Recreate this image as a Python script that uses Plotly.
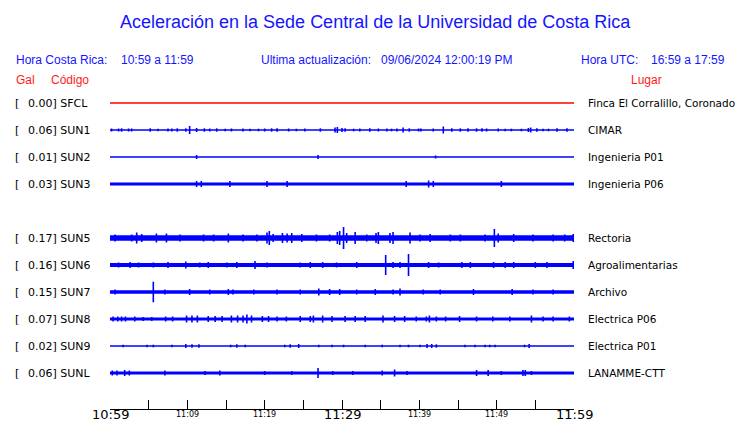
import plotly.graph_objects as go

# ---------------- data ----------------
codes = ["SFCL", "SUN1", "SUN2", "SUN3", "SUN5", "SUN6", "SUN7", "SUN8", "SUN9", "SUNL"]
gal = [0.00, 0.06, 0.01, 0.03, 0.17, 0.16, 0.15, 0.07, 0.02, 0.06]
places = ["Finca El Corralillo, Coronado", "CIMAR", "Ingenieria P01", "Ingenieria P06",
          "Rectoria", "Agroalimentarias", "Archivo", "Electrica P06", "Electrica P01", "LANAMME-CTT"]
rows = [0, 1, 2, 3, 5, 6, 7, 8, 9, 10]          # SUN4 slot is empty
noise = [0.5, 0.6, 0.5, 1.6, 2.7, 2.0, 1.7, 1.5, 0.5, 1.6]   # noise floor half-amplitude

# minutes after 10:59 and peak half-amplitude of visible bursts
sfcl_t, sfcl_a = [], []
sun1_t = [0.2, 1.1, 1.5, 2.4, 2.8, 5.2, 6.2, 7.5, 8.0, 8.7, 9.8, 10.3, 11.2, 12.2, 12.9, 13.8, 14.9,
          15.7, 17.2, 18.1, 19.2, 20.0, 20.9, 21.6, 23.1, 24.1, 25.2, 27.2, 29.1, 29.4, 30.0, 30.4,
          31.5, 32.3, 33.6, 34.7, 35.8, 36.4, 37.1, 37.9, 38.7, 39.9, 40.2, 41.8, 43.1, 44.2, 45.3,
          46.3, 47.4, 48.1, 48.7, 50.2, 51.1, 51.9, 53.2, 54.1, 54.4, 55.2, 56.0, 56.7, 57.8, 59.1]
sun1_a = [1.5, 1.5, 1.7, 1.5, 1.5, 1.7, 1.3, 1.5, 1.5, 1.7, 1.7, 4.0, 2.0, 1.7, 1.5, 1.7, 1.3,
          1.5, 1.5, 1.3, 1.3, 1.5, 1.7, 1.7, 1.5, 1.3, 1.5, 1.7, 2.5, 3.0, 2.0, 1.7,
          1.3, 1.5, 1.7, 1.5, 1.5, 1.3, 1.5, 2.5, 1.7, 1.5, 1.5, 1.5, 3.5, 1.7, 1.7,
          1.7, 1.7, 1.7, 1.5, 1.5, 1.3, 1.3, 1.3, 2.0, 2.5, 1.7, 1.3, 1.3, 1.7, 1.7]
sun2_t = [11.2, 26.9, 42.1]
sun2_a = [2.0, 2.0, 1.5]
sun3_t = [11.2, 11.8, 15.5, 20.3, 22.9, 38.3, 41.2, 41.8, 50.6]
sun3_a = [3.0, 3.0, 3.0, 3.0, 3.0, 3.0, 3.5, 3.0, 3.0]
sun5_t = [0.65, 2.8, 3.45, 4.1, 6.0, 7.3, 9.05, 12.1, 13.4, 15.3, 17.2, 19.0, 20.3, 20.6, 21.1,
          22.3, 22.9, 23.5, 24.8, 26.7, 28.4, 29.4, 29.7, 30.2, 30.6, 31.7, 33.2, 34.4, 34.7,
          36.2, 36.6, 38.8, 40.1, 41.4, 44.0, 45.3, 48.5, 49.7, 50.2, 52.2, 54.7, 57.3, 58.8, 59.9]
sun5_a = [3.5, 3.5, 5.5, 4.0, 4.5, 4.5, 3.5, 3.5, 3.5, 4.5, 3.5, 3.5, 5.5, 7.0, 4.0,
          5.0, 4.5, 5.0, 4.0, 3.5, 3.5, 6.0, 7.0, 11.0, 5.0, 6.0, 3.5, 5.0, 6.0,
          5.0, 6.0, 5.5, 3.5, 4.0, 3.5, 3.5, 3.5, 9.0, 4.5, 4.0, 3.5, 3.5, 3.5, 4.0]
sun6_t = [1.1, 2.6, 3.7, 5.6, 7.5, 9.8, 11.6, 12.7, 15.1, 16.4, 18.75, 20.3, 24.6, 25.9, 27.5,
          29.3, 31.9, 35.65, 36.6, 37.5, 38.6, 41.2, 42.5, 45.5, 46.6, 49.6, 51.1, 52.2, 55.0,
          56.5, 59.9]
sun6_a = [2.5, 3.0, 2.5, 2.5, 3.0, 3.5, 2.5, 3.0, 2.5, 3.0, 4.0, 2.5, 2.5, 3.0, 3.0,
          2.5, 3.0, 10.0, 3.0, 3.0, 11.0, 3.0, 2.5, 3.0, 3.0, 3.0, 3.0, 3.0, 3.0,
          3.0, 4.0]
sun7_t = [0.65, 5.6, 7.1, 10.3, 12.9, 15.3, 15.9, 18.6, 21.6, 24.6, 27.0, 28.4, 29.7, 31.9, 34.3,
          36.6, 37.5, 40.5, 42.7, 47.0, 52.0, 54.7, 57.3]
sun7_a = [2.5, 10.3, 2.5, 3.0, 2.5, 3.0, 2.5, 2.5, 2.5, 2.5, 3.5, 3.0, 3.0, 2.5, 3.0,
          2.5, 3.5, 2.5, 2.5, 3.0, 3.0, 2.5, 2.5]
sun8_t = [0.4, 1.0, 1.5, 2.0, 3.2, 4.3, 5.4, 7.2, 8.1, 9.9, 10.6, 11.3, 12.7, 13.6, 14.5, 15.7,
          16.5, 17.2, 17.7, 18.3, 19.7, 20.5, 21.6, 22.8, 24.6, 25.9, 26.3, 27.5, 28.7, 30.4,
          31.7, 33.0, 35.3, 36.8, 38.1, 39.6, 40.9, 41.3, 42.2, 43.4, 45.2, 47.4, 49.5, 51.7,
          54.5, 56.0, 57.3, 59.4]
sun8_a = [2.5, 2.5, 2.5, 2.5, 2.5, 2.0, 2.0, 2.5, 2.5, 3.5, 3.5, 3.5, 3.0, 3.0, 3.0, 3.5,
          3.5, 3.5, 4.5, 3.5, 3.0, 3.0, 2.5, 2.5, 3.0, 3.0, 3.5, 3.5, 3.0, 3.0,
          3.0, 3.0, 3.5, 3.0, 3.0, 2.5, 2.5, 3.5, 2.5, 2.5, 3.0, 2.5, 2.5, 2.5,
          3.5, 2.5, 2.5, 2.5]
sun9_t = [1.7, 4.8, 5.6, 8.0, 9.8, 10.6, 11.5, 15.6, 16.4, 17.5, 22.6, 23.3, 24.4, 27.0, 28.7,
          30.2, 33.0, 35.2, 37.5, 38.6, 40.1, 41.0, 41.6, 42.2, 45.9, 47.2, 48.5, 49.1, 49.8,
          53.6, 54.2]
sun9_a = [1.3, 1.3, 1.3, 1.3, 2.0, 1.7, 1.7, 1.3, 1.7, 1.3, 1.3, 1.7, 2.0, 1.3, 1.3,
          1.3, 1.3, 1.3, 1.3, 1.3, 1.3, 2.0, 2.0, 1.7, 1.3, 1.3, 1.3, 1.3, 1.3,
          1.3, 2.0]
sunl_t = [0.3, 0.9, 1.9, 2.5, 7.1, 12.3, 14.2, 20.0, 23.5, 26.9, 28.8, 31.4, 35.2, 36.8, 38.4,
          47.4, 48.9, 50.6, 53.4, 53.7, 54.5]
sunl_a = [2.5, 2.5, 3.0, 2.5, 2.5, 2.0, 2.5, 2.0, 2.0, 5.0, 2.0, 2.0, 2.5, 3.5, 2.0,
          3.0, 3.0, 2.0, 3.0, 3.0, 2.0]

event_t = [sfcl_t, sun1_t, sun2_t, sun3_t, sun5_t, sun6_t, sun7_t, sun8_t, sun9_t, sunl_t]
event_a = [sfcl_a, sun1_a, sun2_a, sun3_a, sun5_a, sun6_a, sun7_a, sun8_a, sun9_a, sunl_a]
colors = ["#ff0000"] + ["#0000ff"] * 9

tick_vals = [0, 5, 10, 15, 20, 25, 30, 35, 40, 45, 50, 55, 60]
major_vals = [0, 30, 60]
major_text = ["10:59", "11:29", "11:59"]
minor_vals = [10, 20, 40, 50]
minor_text = ["11:09", "11:19", "11:39", "11:49"]
T_END = 60

# ---------------- layout constants ----------------
W, H = 740, 423
PL, PR, PT, PB = 110, 574, 90, 409      # plot area in px
ROW_PX = 27.0
ymax = (103 - PT) / ROW_PX
ymin = -(10 + (PB - 373) / ROW_PX)
scale = 1.0 / ROW_PX    # amplitude px -> row units

def px(x):
    return (x - PL) / (PR - PL)

def py(y):
    return (PB - y) / (PB - PT)

fig = go.Figure()
for i, code in enumerate(codes):
    c = -rows[i]
    col = colors[i]
    fig.add_trace(go.Scatter(x=[0, T_END], y=[c, c], mode="lines",
                             line=dict(color=col, width=max(1.3, 2 * noise[i])),
                             hoverinfo="skip", showlegend=False))
    xs, ys = [], []
    for t, a in zip(event_t[i], event_a[i]):
        xs += [t, t, None]
        ys += [c - a * scale, c + a * scale, None]
    if xs:
        fig.add_trace(go.Scatter(x=xs, y=ys, mode="lines",
                                 line=dict(color=col, width=1.6),
                                 hoverinfo="skip", showlegend=False))

BLUE = "#1414ff"
RED = "#ff1a1a"
ann = []
ann.append(dict(text="Aceleración en la Sede Central de la Universidad de Costa Rica",
                x=px(375), y=py(22), font=dict(family="Liberation Sans", size=18, color=BLUE),
                xanchor="center"))
hdr = [("Hora Costa Rica:", 15), ("10:59 a 11:59", 120), ("Ultima actualización:", 260),
       ("09/06/2024 12:00:19 PM", 380), ("Hora UTC:", 580), ("16:59 a 17:59", 650)]
for t, x in hdr:
    ann.append(dict(text=t, x=px(x), y=py(60), xanchor="left",
                    font=dict(family="Liberation Sans", size=12, color=BLUE)))
for t, x in [("Gal", 15), ("Código", 50), ("Lugar", 630)]:
    ann.append(dict(text=t, x=px(x), y=py(80), xanchor="left",
                    font=dict(family="Liberation Sans", size=12, color=RED)))

for i, code in enumerate(codes):
    c = -rows[i]
    f = dict(family="DejaVu Sans", size=11, color="black")
    ann.append(dict(text="[", x=px(14), y=c, yref="y", xanchor="left", font=f))
    ann.append(dict(text=f"{gal[i]:.2f}] {code}", x=px(27), y=c, yref="y", xanchor="left", font=f))
    ann.append(dict(text=places[i], x=px(587), y=c, yref="y", xanchor="left",
                    font=dict(family="DejaVu Sans", size=10.5, color="black")))

# time-axis labels (two sizes, placed on the time scale)
for v, t in zip(major_vals, major_text):
    ann.append(dict(text=t, x=v, xref="x", y=py(423), yanchor="bottom", xanchor="center",
                    font=dict(family="DejaVu Sans", size=13, color="black")))
for v, t in zip(minor_vals, minor_text):
    ann.append(dict(text=t, x=v, xref="x", y=py(414.5), xanchor="center",
                    font=dict(family="DejaVu Sans", size=8, color="black")))

for a in ann:
    a.setdefault("xref", "paper")
    a.setdefault("yref", "paper")
    a.setdefault("yanchor", "middle")
    a["showarrow"] = False
    a["borderpad"] = 0

fig.update_layout(
    width=W, height=H,
    margin=dict(l=PL, r=W - PR, t=PT, b=H - PB),
    paper_bgcolor="white", plot_bgcolor="white",
    showlegend=False,
    annotations=ann,
    xaxis=dict(range=[0, T_END], showgrid=False, zeroline=False,
               showline=True, linecolor="black", linewidth=1,
               tickvals=tick_vals, showticklabels=False,
               ticks="inside", ticklen=9, tickcolor="black", tickwidth=1,
               automargin=False, fixedrange=True),
    yaxis=dict(range=[ymin, ymax], visible=False, fixedrange=True),
)

fig.write_html("out.html", config={"displayModeBar": False},
               post_script="document.body.style.margin='0';document.body.style.overflow='hidden';")
